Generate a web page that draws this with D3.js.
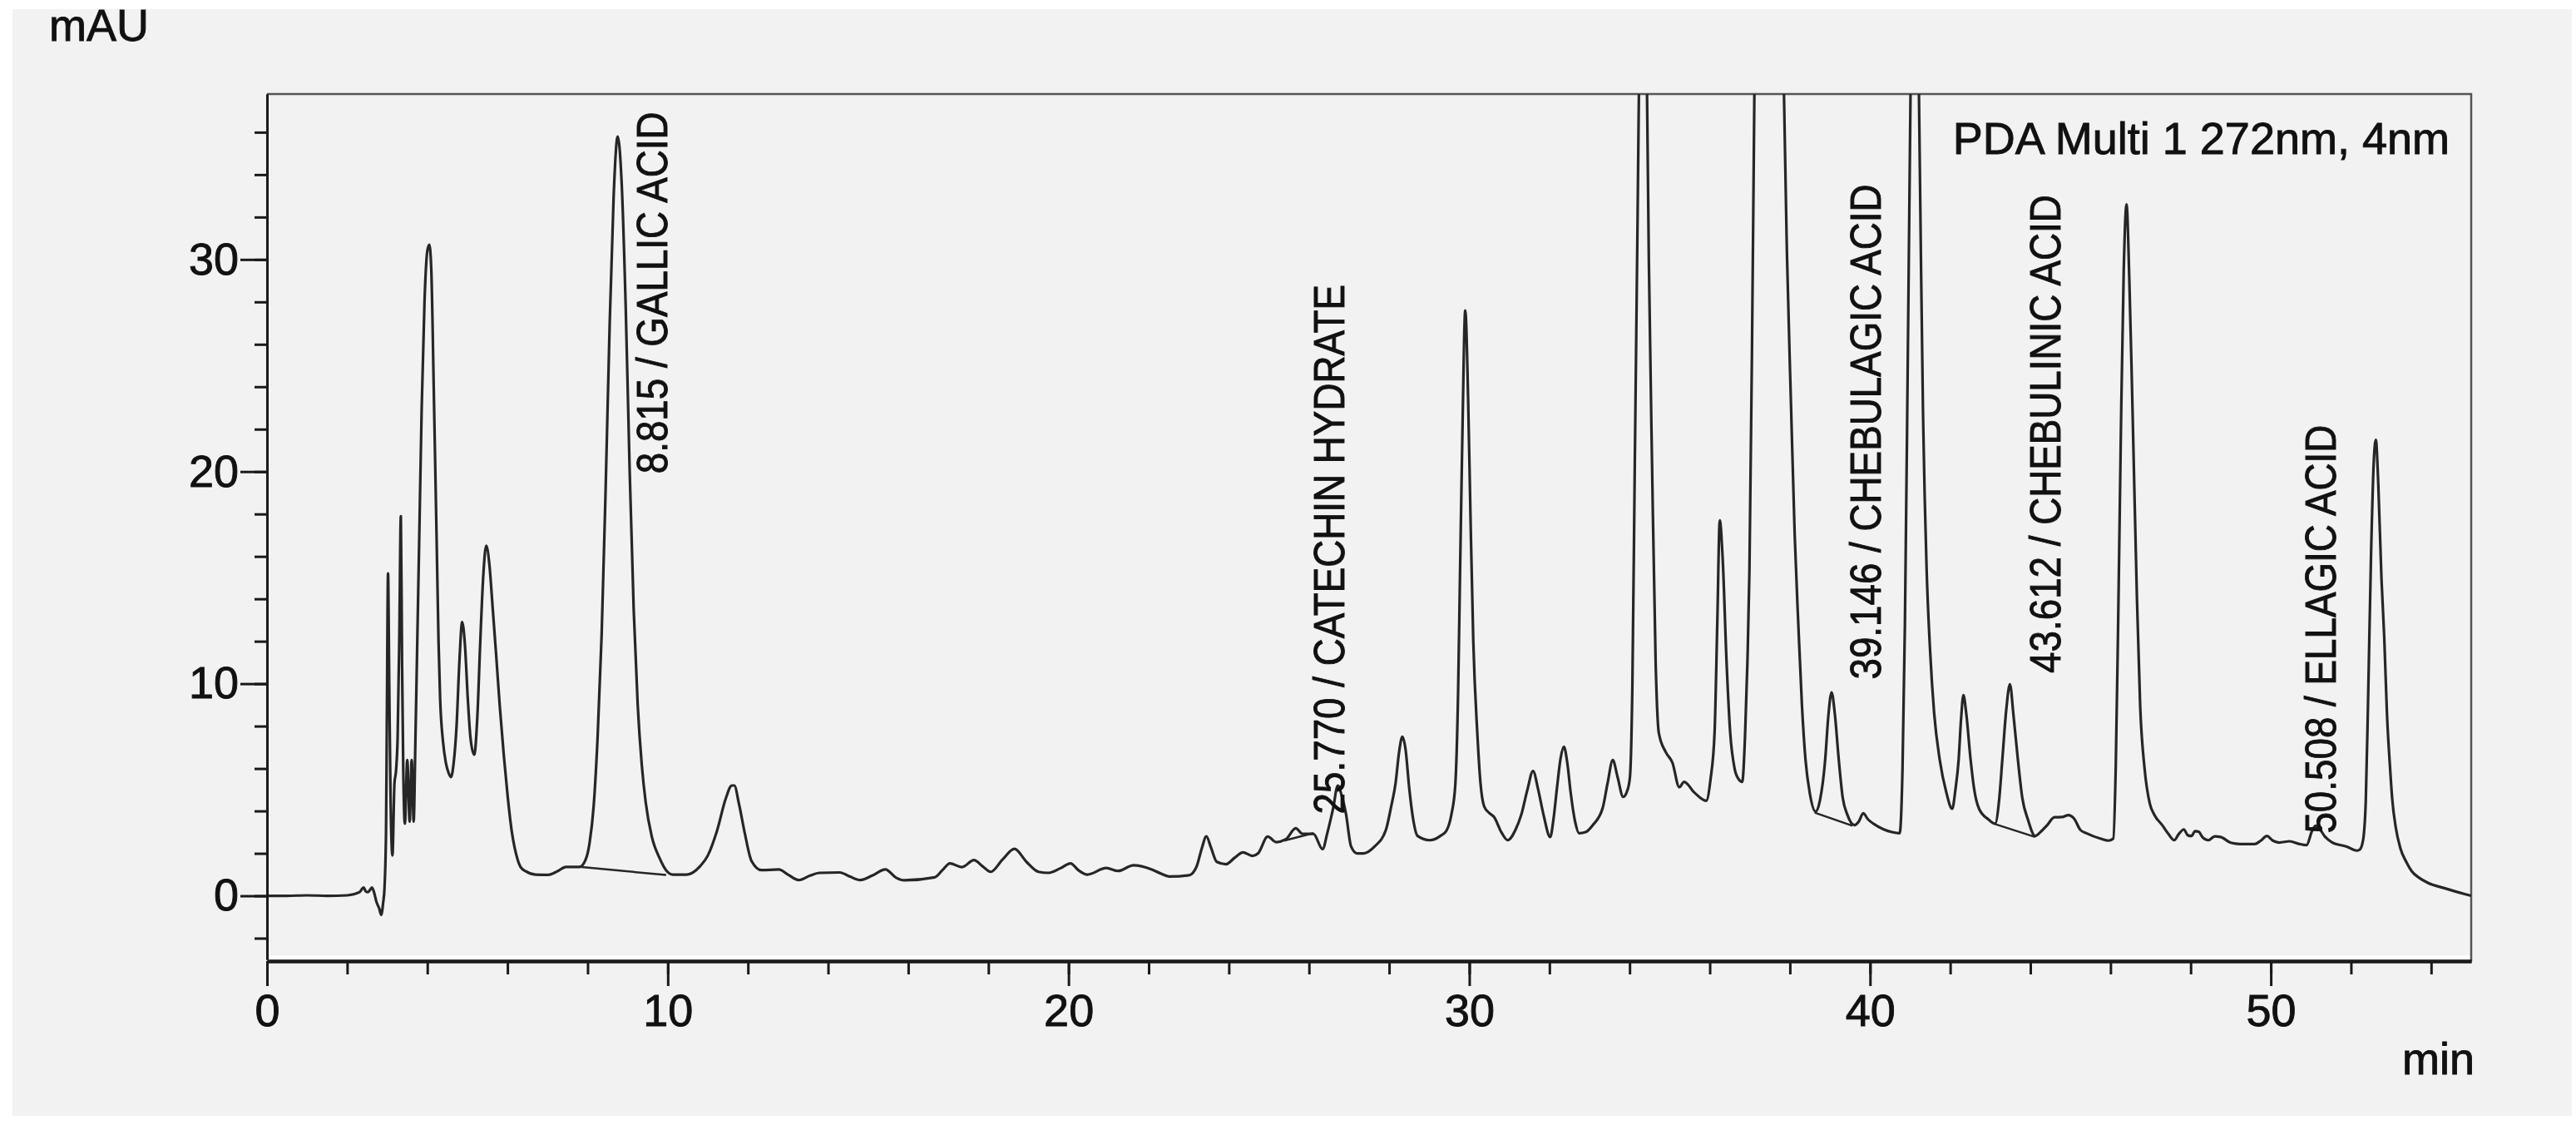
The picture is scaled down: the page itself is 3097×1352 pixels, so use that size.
<!DOCTYPE html>
<html>
<head>
<meta charset="utf-8">
<script src="https://cdn.jsdelivr.net/npm/d3@7"></script>
<style>
  body { margin: 0; background: #fff; }
  svg { display: block; }
  text { font-family: "Liberation Sans", Arial, sans-serif; fill: #111; stroke: #111; stroke-width: 0.9px; }
</style>
</head>
<body>
<svg></svg>
<script>
// Page size
const width = 3097;
const height = 1352;

// Chromatogram trace, [retention time (min), absorbance (mAU)]
const tracePoints = [
  [0, 0], [0.5, 0], [1, 0.02], [1.5, 0], [2, 0.02], [2.31, 0.17], [2.41, 0.39], [2.47, 0.2],
  [2.52, 0.17], [2.58, 0.3], [2.62, 0.39], [2.68, 0.1], [2.73, -0.28], [2.8, -0.6], [2.85, -0.9],
  [2.9, -0.3], [2.93, 0.3], [2.97, 3.0], [2.99, 8], [3.02, 15.2], [3.05, 10], [3.08, 5], [3.13, 1.9],
  [3.18, 5.3], [3.22, 5.9], [3.26, 7.5], [3.3, 12], [3.34, 17.9], [3.37, 11], [3.4, 6], [3.44, 3.4],
  [3.5, 6.4], [3.56, 3.5], [3.61, 6.4], [3.66, 3.5], [3.7, 7], [3.75, 12], [3.8, 17], [3.86, 23],
  [3.93, 28], [4.0, 30.4], [4.05, 30.7], [4.1, 29.5], [4.16, 24], [4.23, 17.1], [4.28, 12], [4.32, 9.3],
  [4.39, 7.3], [4.46, 6.3], [4.53, 5.8], [4.59, 5.6], [4.66, 6.3], [4.73, 8.0], [4.8, 11], [4.87, 12.9],
  [4.94, 11.8], [5.01, 9.3], [5.08, 7.4], [5.17, 6.65], [5.25, 8.5], [5.32, 11.9], [5.4, 15.2], [5.47, 16.5],
  [5.55, 15.6], [5.63, 13.6], [5.72, 11.3], [5.81, 8.9], [5.91, 6.6], [6.01, 4.6], [6.11, 3.0], [6.22, 1.94],
  [6.33, 1.35], [6.46, 1.15], [6.7, 1.0], [7.02, 0.99], [7.25, 1.16], [7.46, 1.36], [7.8, 1.36],
  [7.95, 1.7], [8.05, 2.5], [8.15, 4.2], [8.25, 7.5], [8.35, 12.3], [8.45, 19.2], [8.55, 26.9], [8.65, 33.0],
  [8.75, 35.8], [8.85, 33.6], [8.95, 27.8], [9.05, 20.0], [9.15, 13.5], [9.25, 9.0], [9.35, 6.2], [9.45, 4.4],
  [9.6, 2.8], [9.79, 1.8], [9.96, 1.2], [10.13, 1.0], [10.47, 1.0], [10.81, 1.4], [11.0, 1.9], [11.23, 3.07],
  [11.45, 4.6], [11.6, 5.2], [11.66, 5.2], [11.78, 4.3], [11.92, 2.97], [12.09, 1.64], [12.34, 1.21],
  [12.77, 1.24], [13.0, 1.0], [13.27, 0.74], [13.55, 0.95], [13.78, 1.08], [14.29, 1.1], [14.55, 0.9],
  [14.8, 0.74], [15.1, 0.95], [15.43, 1.24], [15.7, 0.85], [15.9, 0.73], [16.66, 0.87], [16.85, 1.2],
  [17.04, 1.53], [17.34, 1.35], [17.64, 1.68], [17.85, 1.4], [18.06, 1.13], [18.35, 1.7], [18.65, 2.21],
  [18.95, 1.6], [19.25, 1.13], [19.5, 1.08], [19.8, 1.3], [20.05, 1.53], [20.25, 1.2], [20.47, 1.0],
  [20.94, 1.31], [21.24, 1.17], [21.62, 1.44], [22.08, 1.24], [22.3, 1.05], [22.51, 0.91], [23.01, 0.97],
  [23.2, 1.4], [23.32, 2.2], [23.44, 2.8], [23.55, 2.3], [23.7, 1.6], [23.93, 1.49], [24.15, 1.8],
  [24.35, 2.05], [24.59, 1.88], [24.73, 2.0], [24.97, 2.79], [25.18, 2.53], [25.42, 2.66], [25.67, 3.18],
  [25.84, 2.92], [26.11, 2.92], [26.34, 2.2], [26.46, 2.98], [26.6, 4.1], [26.72, 5.2], [26.82, 4.7],
  [26.92, 3.9], [27.05, 2.33], [27.2, 2.0], [27.36, 2.0], [27.64, 2.33], [27.92, 3.11], [28.05, 4.2],
  [28.16, 5.3], [28.25, 6.8], [28.33, 7.5], [28.41, 6.9], [28.5, 5.1], [28.6, 3.6], [28.71, 2.82],
  [29.01, 2.62], [29.3, 2.85], [29.43, 3.07], [29.55, 3.8], [29.65, 5.2], [29.72, 9.5], [29.77, 15.3],
  [29.83, 22], [29.9, 27.6], [29.97, 23.5], [30.03, 17.9], [30.1, 12], [30.2, 7.67], [30.28, 5.3],
  [30.37, 4.22], [30.5, 3.9], [30.62, 3.71], [30.8, 3.0], [30.96, 2.62], [31.15, 3.1], [31.3, 3.84],
  [31.45, 5.0], [31.59, 5.88], [31.72, 5.0], [31.85, 3.84], [32.02, 2.77], [32.1, 3.6], [32.19, 5.12],
  [32.28, 6.5], [32.36, 7.03], [32.45, 6.2], [32.53, 4.86], [32.64, 3.5], [32.74, 2.95], [32.9, 3.0],
  [33.08, 3.33], [33.33, 4.15], [33.45, 5.3], [33.58, 6.4], [33.7, 5.6], [33.84, 4.66], [33.95, 5.0],
  [34.01, 5.63], [34.07, 10], [34.13, 20.4], [34.2, 32], [34.27, 44], [34.34, 48], [34.41, 42], [34.48, 30],
  [34.56, 20.4], [34.65, 11], [34.73, 7.67], [34.9, 6.78], [35.07, 6.27], [35.24, 5.12], [35.36, 5.37],
  [35.62, 4.86], [35.91, 4.48], [36.02, 5.5], [36.12, 7.67], [36.19, 13], [36.25, 17.7], [36.32, 16],
  [36.42, 11], [36.51, 7.7], [36.62, 6.0], [36.72, 5.5], [36.81, 5.37], [36.88, 7.5], [36.94, 11],
  [36.99, 15.3], [37.05, 25], [37.1, 35], [37.15, 45], [37.3, 60], [37.5, 65], [37.7, 58], [37.8, 46],
  [37.85, 38], [37.93, 30], [38.03, 23], [38.12, 17], [38.21, 12.8], [38.3, 9], [38.39, 6.4], [38.5, 4.8],
  [38.64, 3.97], [38.75, 4.5], [38.88, 6.4], [38.96, 8.5], [39.04, 9.59], [39.12, 8.6], [39.22, 6.4],
  [39.32, 4.6], [39.43, 3.84], [39.61, 3.33], [39.72, 3.5], [39.83, 3.89], [39.95, 3.6], [40.1, 3.38],
  [40.34, 3.13], [40.55, 3.0], [40.74, 2.95], [40.81, 6], [40.87, 12.8], [40.94, 25], [41.0, 36],
  [41.08, 48], [41.15, 46], [41.22, 37.8], [41.27, 30], [41.32, 23], [41.41, 15.5], [41.5, 11.5],
  [41.6, 8.6], [41.74, 6.4], [41.9, 4.9], [42.05, 4.1], [42.13, 5], [42.21, 6.4], [42.27, 8.3],
  [42.33, 9.46], [42.4, 8.6], [42.51, 6.4], [42.6, 5], [42.72, 4.1], [42.96, 3.59], [43.12, 3.4],
  [43.22, 4.5], [43.3, 6.4], [43.4, 8.8], [43.49, 9.97], [43.58, 8.5], [43.69, 6.4], [43.8, 4.6],
  [43.94, 3.59], [44.12, 2.82], [44.25, 3.0], [44.42, 3.33], [44.6, 3.7], [44.79, 3.71], [44.95, 3.8],
  [45.09, 3.64], [45.25, 3.1], [45.4, 2.95], [45.76, 2.69], [45.95, 2.6], [46.07, 2.7], [46.13, 6],
  [46.19, 12.8], [46.26, 22], [46.33, 29.5], [46.4, 32.6], [46.47, 29], [46.53, 24.5], [46.58, 20.4],
  [46.66, 14], [46.74, 8.95], [46.85, 6], [46.98, 4.35], [47.1, 3.8], [47.29, 3.33], [47.45, 2.9],
  [47.59, 2.62], [47.7, 2.9], [47.83, 3.13], [47.93, 2.85], [48.02, 2.82], [48.11, 3.05], [48.2, 3.02],
  [48.3, 2.75], [48.44, 2.62], [48.6, 2.8], [48.75, 2.77], [49.0, 2.5], [49.23, 2.44], [49.6, 2.44],
  [49.75, 2.6], [49.9, 2.82], [50.05, 2.6], [50.21, 2.51], [50.47, 2.57], [50.7, 2.45], [50.89, 2.39],
  [51.03, 3.06], [51.12, 3.3], [51.2, 3.2], [51.35, 2.79], [51.52, 2.53], [51.91, 2.31], [52.14, 2.13],
  [52.22, 2.18], [52.3, 2.6], [52.37, 4.5], [52.43, 9.5], [52.5, 16], [52.57, 20.5], [52.62, 21.5],
  [52.68, 19.5], [52.76, 15], [52.83, 12.2], [52.9, 8.5], [52.97, 6.2], [53.03, 4.55], [53.12, 3.2],
  [53.24, 2.2], [53.38, 1.6], [53.52, 1.15], [53.7, 0.85], [53.93, 0.6], [54.35, 0.35], [54.84, 0.08],
  [55, 0]
];

// Integration baselines drawn under the identified peaks
const baselineSegments = [
  [[7.8, 1.36], [9.96, 0.98]],
  [[25.38, 2.6], [26.11, 2.95]],
  [[38.62, 3.92], [39.56, 3.3]],
  [[43.12, 3.38], [44.12, 2.77]]
];

// Peak annotations
const peakLabels = ["8.815 / GALLIC ACID", "25.770 / CATECHIN HYDRATE", "39.146 / CHEBULAGIC ACID",
  "43.612 / CHEBULINIC ACID", "50.508 / ELLAGIC ACID"];
const labelTimes = [9.99, 26.88, 40.27, 44.74, 51.61];
const labelHeights = [19.9, 3.85, 10.2, 10.5, 2.94];

// Axis ticks
const xMajorTicks = [0, 10, 20, 30, 40, 50];
const xMinorTicks = d3.range(0, 55, 2);
const yMajorTicks = [0, 10, 20, 30];
const yMinorTicks = d3.range(-2, 37, 2);

const svg = d3.select("svg")
    .attr("width", width)
    .attr("height", height);

// Gray panel behind everything
svg.append("rect")
    .attr("x", 15).attr("y", 11)
    .attr("width", 3077).attr("height", 1330)
    .attr("fill", "#f2f2f2");

// Scales
const x = d3.scaleLinear().domain([0, 55]).range([321, 2971]);
const y = d3.scaleLinear().domain([-3, 37.8]).range([1153, 113]);

// Clip for the trace
svg.append("clipPath").attr("id", "plotClip")
  .append("rect")
    .attr("x", x(0)).attr("y", y(37.8))
    .attr("width", x(55) - x(0)).attr("height", y(-3) - y(37.8));

// Frame (top and right)
svg.append("path")
    .attr("d", `M${x(0)},${y(37.8)}H${x(55)}V${y(-3) + 2}`)
    .attr("fill", "none")
    .attr("stroke", "#555")
    .attr("stroke-width", 2.5);

// White strip just above the x axis
svg.append("line")
    .attr("x1", x(0) + 2).attr("x2", x(55) - 2)
    .attr("y1", y(-3) - 3).attr("y2", y(-3) - 3)
    .attr("stroke", "#fff")
    .attr("stroke-width", 3);

// Trace
const line = d3.line()
    .x(d => x(d[0]))
    .y(d => y(d[1]))
    .curve(d3.curveMonotoneX);

const plot = svg.append("g").attr("clip-path", "url(#plotClip)");

plot.append("path")
    .datum(tracePoints)
    .attr("d", line)
    .attr("fill", "none")
    .attr("stroke", "#262626")
    .attr("stroke-width", 3.2)
    .attr("stroke-linejoin", "round");

plot.selectAll(".baseline")
    .data(baselineSegments)
    .enter()
    .append("path")
    .attr("class", "baseline")
    .attr("d", d3.line().x(d => x(d[0])).y(d => y(d[1])))
    .attr("fill", "none")
    .attr("stroke", "#262626")
    .attr("stroke-width", 2.5);

// Axes
function styleAxis(g, width) {
    g.select(".domain").attr("stroke", "#1a1a1a").attr("stroke-width", width);
    g.selectAll(".tick line").attr("stroke", "#1a1a1a").attr("stroke-width", 3);
    g.selectAll(".tick text")
        .style("font-size", "54px")
        .style("font-family", "'Liberation Sans', Arial, sans-serif")
        .attr("fill", "#111");
}

svg.append("g")
    .attr("transform", `translate(0,${y(-3) + 2})`)
    .call(d3.axisBottom(x).tickValues(xMinorTicks).tickSize(16).tickFormat("").tickSizeOuter(0))
    .call(g => styleAxis(g, 4));

svg.append("g")
    .attr("transform", `translate(0,${y(-3) + 2})`)
    .call(d3.axisBottom(x).tickValues(xMajorTicks).tickSize(30).tickPadding(10).tickSizeOuter(0))
    .call(g => styleAxis(g, 4));

svg.append("g")
    .attr("transform", `translate(${x(0)},0)`)
    .call(d3.axisLeft(y).tickValues(yMinorTicks).tickSize(15).tickFormat("").tickSizeOuter(0))
    .call(g => styleAxis(g, 3));

svg.append("g")
    .attr("transform", `translate(${x(0)},0)`)
    .call(d3.axisLeft(y).tickValues(yMajorTicks).tickSize(32).tickPadding(2).tickSizeOuter(0))
    .call(g => styleAxis(g, 3));

// Axis titles
svg.append("text")
    .attr("x", 59).attr("y", 49)
    .style("font-size", "54px")
    .text("mAU");

svg.append("text")
    .attr("x", 2975).attr("y", 1291)
    .attr("text-anchor", "end")
    .style("font-size", "54px")
    .text("min");

// Detector note
svg.append("text")
    .attr("x", 2945).attr("y", 185)
    .attr("text-anchor", "end")
    .style("font-size", "54px")
    .text("PDA Multi 1 272nm, 4nm");

// Peak labels, rotated
svg.selectAll(".peak-label")
    .data(peakLabels)
    .enter()
    .append("text")
    .attr("class", "peak-label")
    .attr("transform", (d, i) => `translate(${x(labelTimes[i])},${y(labelHeights[i])}) rotate(-90) scale(0.88,1)`)
    .style("font-size", "52px")
    .text(d => d);
</script>
</body>
</html>
